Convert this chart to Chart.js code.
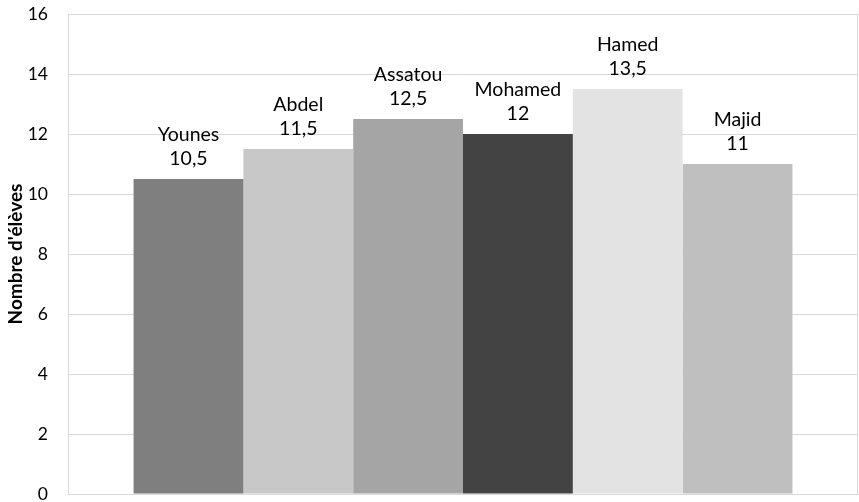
<!DOCTYPE html>
<html>
<head>
<meta charset="utf-8">
<script src="https://cdn.jsdelivr.net/npm/chart.js@4/dist/chart.umd.min.js"></script>
<style>
  html, body { margin: 0; padding: 0; background: #fff; }
  #wrap { width: 859px; height: 502px; }
</style>
</head>
<body>
<div id="wrap"><canvas id="barChart"></canvas></div>
<script>
/* ================= DATA ================= */
const eleves = ["Younes", "Abdel", "Assatou", "Mohamed", "Hamed", "Majid"];
const notes = [10.5, 11.5, 12.5, 12, 13.5, 11];
const yTicks = [0, 2, 4, 6, 8, 10, 12, 14, 16];
const yTitle = "Nombre d'élèves";

/* ================= COLORS ================= */
function barColors() {
  return ["#7f7f7f", "#c8c8c8", "#a5a5a5", "#434343", "#e3e3e3", "#bfbfbf"];
}

/* ================= PLUGINS ================= */
// frame on the right side of the plot, like the excel one
const plotFrame = {
  id: "plotFrame",
  beforeDatasetsDraw(chart) {
    const { ctx, chartArea } = chart;
    ctx.save();
    ctx.strokeStyle = "#d9d9d9";
    ctx.lineWidth = 1;
    ctx.beginPath();
    ctx.moveTo(Math.round(chartArea.right) - 0.5, chartArea.top);
    ctx.lineTo(Math.round(chartArea.right) - 0.5, chartArea.bottom);
    ctx.stroke();
    ctx.restore();
  }
};

// name + value above each bar
const barLabels = {
  id: "barLabels",
  afterDatasetsDraw(chart) {
    const { ctx } = chart;
    ctx.save();
    ctx.font = "19.5px Lato";
    ctx.fillStyle = "#000";
    ctx.textAlign = "center";
    ctx.textBaseline = "middle";
    chart.data.datasets.forEach((ds, i) => {
      const bar = chart.getDatasetMeta(i).data[0];
      ctx.fillText(ds.label, bar.x, bar.y - 44);
      ctx.fillText(String(ds.data[0]).replace(".", ","), bar.x, bar.y - 20);
    });
    ctx.restore();
  }
};

/* ================= CHART ================= */
const datasets = eleves.map((nom, i) => ({
  label: nom,
  data: [notes[i]],
  backgroundColor: barColors()[i],
  borderWidth: 0,
  categoryPercentage: 0.834,
  barPercentage: 1
}));

new Chart(document.getElementById("barChart"), {
  type: "bar",
  data: { labels: [""], datasets },
  options: {
    responsive: true,
    maintainAspectRatio: false,
    animation: false,
    layout: { padding: { top: 14, right: 1, bottom: 8, left: 0 } },
    plugins: {
      legend: { display: false },
      tooltip: { enabled: false }
    },
    scales: {
      x: {
        ticks: { display: false },
        grid: { display: false },
        border: { color: "#d9d9d9" },
        afterFit: s => { s.height = 0; }
      },
      y: {
        min: 0,
        max: 16,
        afterBuildTicks: s => { s.ticks = yTicks.map(v => ({ value: v })); },
        afterFit: s => {
          s.width = 68;
          s.paddingTop = 0;
          s.paddingBottom = 0;
        },
        ticks: {
          color: "#000",
          font: { family: "Lato", size: 17.5 },
          padding: 20
        },
        grid: { color: "#d9d9d9", drawTicks: false },
        border: { color: "#d9d9d9" },
        title: {
          display: true,
          text: yTitle,
          color: "#000",
          font: { family: "Lato", size: 19, weight: "bold" },
          padding: { top: 4, bottom: 0 }
        }
      }
    }
  },
  plugins: [plotFrame, barLabels]
});
</script>
</body>
</html>
